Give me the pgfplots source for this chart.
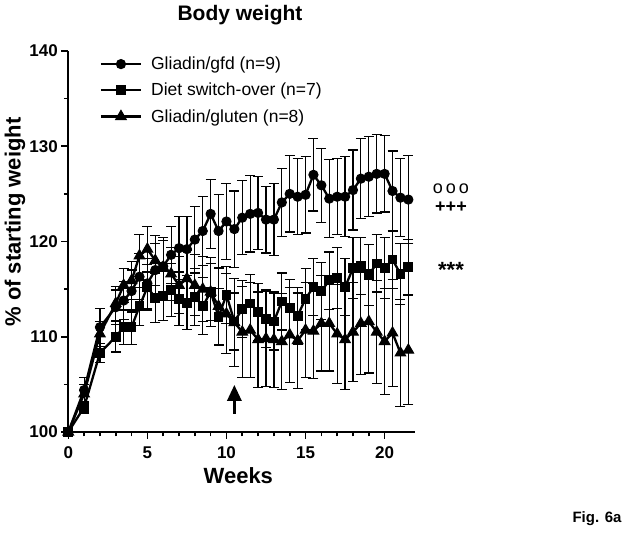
\documentclass[border=0pt]{standalone}
\usepackage{pgfplots}
\usepackage{pgfplotstable}
\pgfplotsset{compat=1.18}
\usetikzlibrary{arrows.meta}
\usepackage{fontspec}
\setmainfont{Liberation Sans}

\pgfplotstableread{
x y e
0 100 0
1 104.4 1.3
2 111.0 2.0
3 113.1 1.8
3.5 113.8 2.0
4 114.8 2.2
4.5 116.3 2.4
5 115.6 2.6
5.5 117.0 2.8
6 117.4 3.0
6.5 118.6 3.0
7 119.3 3.3
7.5 119.2 3.4
8 120.2 3.5
8.5 121.1 3.6
9 122.9 3.6
9.5 121.1 3.8
10 122.1 4.0
10.5 121.3 4.0
11 122.5 3.9
11.5 122.9 4.0
12 123.0 3.8
12.5 122.3 3.5
13 122.3 3.8
13.5 124.1 3.6
14 125.0 4.0
14.5 124.7 4.0
15 124.9 4.0
15.5 127.0 3.8
16 125.9 3.9
16.5 124.5 4.1
17 124.7 4.0
17.5 124.7 4.2
18 125.4 4.2
18.5 126.6 4.2
19 126.8 4.2
19.5 127.1 4.1
20 127.1 4.0
20.5 125.3 4.2
21 124.6 4.1
21.5 124.4 4.6
}\gfd

\pgfplotstableread{
x y e
0 100 0
1 102.6 0.6
2 108.3 1.0
3 110.0 1.6
3.5 111.0 1.8
4 111.0 1.8
4.5 113.2 2.0
5 115.2 2.4
5.5 114.1 2.6
6 114.3 2.6
6.5 114.9 2.8
7 114.0 2.8
7.5 113.6 2.8
8 114.2 3.0
8.5 113.2 3.0
9 114.7 3.0
9.5 112.1 3.0
10 114.4 3.0
10.5 111.6 3.0
11 112.9 3.0
11.5 113.5 3.0
12 112.6 3.0
12.5 111.9 3.0
13 111.6 3.0
13.5 113.7 3.0
14 113.0 3.0
14.5 112.2 3.0
15 114.0 3.2
15.5 115.2 3.0
16 114.8 3.0
16.5 115.9 3.0
17 116.2 3.2
17.5 115.2 3.0
18 117.2 3.2
18.5 117.4 3.0
19 116.5 3.2
19.5 117.7 3.0
20 117.2 3.2
20.5 118.1 3.0
21 116.6 3.2
21.5 117.3 2.9
}\switchover

\pgfplotstableread{
x y e
0 100 0
1 104.0 1.0
2 110.3 1.3
3 113.5 1.8
3.5 115.4 1.8
4 115.9 2.0
4.5 118.5 2.2
5 119.2 2.4
5.5 118.0 2.6
6 117.3 2.8
6.5 116.6 2.8
7 115.4 3.0
7.5 116.1 3.0
8 115.4 3.2
8.5 115.0 3.4
9 114.7 3.6
9.5 113.2 4.0
10 112.4 4.2
10.5 111.5 4.6
11 110.5 4.8
11.5 110.7 5.0
12 109.7 5.0
12.5 109.8 5.0
13 109.7 5.0
13.5 109.5 5.0
14 110.2 5.0
14.5 109.6 5.0
15 110.7 5.0
15.5 110.6 5.0
16 111.4 5.0
16.5 111.4 5.0
17 110.3 5.2
17.5 109.7 5.2
18 110.5 5.2
18.5 111.4 5.4
19 111.6 5.4
19.5 110.5 5.4
20 109.5 5.6
20.5 110.4 5.6
21 108.3 5.6
21.5 108.6 5.7
}\gluten

\begin{document}
\begin{tikzpicture}[x=1pt,y=1pt]
\path[use as bounding box] (0,0) rectangle (624,535);
\begin{axis}[
  at={(68.3pt,103pt)}, anchor=origin,
  scale only axis, width=347pt, height=381pt,
  xmin=0, xmax=21.94, ymin=100, ymax=140,
  axis x line=bottom, axis y line=left,
  axis line style={line width=2pt,-},
  xtick={0,5,10,15,20}, ytick={100,110,120,130,140},
  minor x tick num=4, minor y tick num=1,
  tick align=outside,
  major tick length=7pt, minor tick length=4.5pt,
  every tick/.style={line width=1.6pt,black},
  /pgf/number format/assume math mode=true,
  ticklabel style={font=\fontsize{17}{20}\selectfont\bfseries},
  xticklabel style={yshift=-4pt},
  xlabel={Weeks}, ylabel={\% of starting weight},
  every axis x label/.style={at={(axis description cs:0.49,0)}, anchor=center, yshift=-44pt, font=\fontsize{22}{26}\selectfont\bfseries},
  every axis y label/.style={at={(axis description cs:-0.1536,0.551)}, rotate=90, anchor=center, font=\fontsize{22}{26}\selectfont\bfseries},
  clip=false,
  legend style={at={(axis cs:1.98,139.6)}, anchor=north west, draw=none, fill=none,
     font=\fontsize{17.5}{20}\selectfont, row sep=8pt, column sep=7pt, inner sep=0pt},
  legend cell align=left,
  legend image code/.code={\draw[mark repeat=2,mark phase=2] plot coordinates {(0pt,0pt)(20pt,0pt)(40pt,0pt)};},
]
\addplot[black, line width=2.3pt, mark=*, mark size=4.6pt, mark options={solid, fill=black, line width=1pt},
  error bars/.cd, y dir=both, y explicit,
  error bar style={line width=1.2pt, black},
  error mark options={rotate=90, line width=1.2pt, mark size=5pt, black}]
  table[x=x, y=y, y error=e] {\gfd};
\addlegendentry{Gliadin/gfd (n=9)}
\addplot[black, line width=2.3pt, mark=square*, mark size=4.4pt, mark options={solid, fill=black, line width=1pt},
  error bars/.cd, y dir=both, y explicit,
  error bar style={line width=1.2pt, black},
  error mark options={rotate=90, line width=1.2pt, mark size=5pt, black}]
  table[x=x, y=y, y error=e] {\switchover};
\addlegendentry{Diet switch-over (n=7)}
\addplot[black, line width=2.3pt, mark=triangle*, mark size=6.1pt, mark options={solid, fill=black, line width=1pt},
  error bars/.cd, y dir=both, y explicit,
  error bar style={line width=1.2pt, black},
  error mark options={rotate=90, line width=1.2pt, mark size=5pt, black}]
  table[x=x, y=y, y error=e] {\gluten};
\addlegendentry{Gliadin/gluten (n=8)}
\draw[line width=3pt, -{Triangle[width=14pt,length=16pt]}] (axis cs:10.5,101.9) -- (axis cs:10.5,104.95);
\end{axis}
\node[font=\fontsize{21}{24}\selectfont\bfseries] at (240,520) {Body weight};
\node[font=\fontsize{18}{20}\selectfont] at (451,346) {o\,o\,o};
\node[font=\fontsize{18}{20}\selectfont\bfseries] at (451,328) {+++};
\node[font=\fontsize{22}{24}\selectfont\bfseries] at (451,265) {***};
\node[font=\fontsize{15}{18}\selectfont\bfseries] at (597,16) {Fig. 6a};
\end{tikzpicture}
\end{document}
